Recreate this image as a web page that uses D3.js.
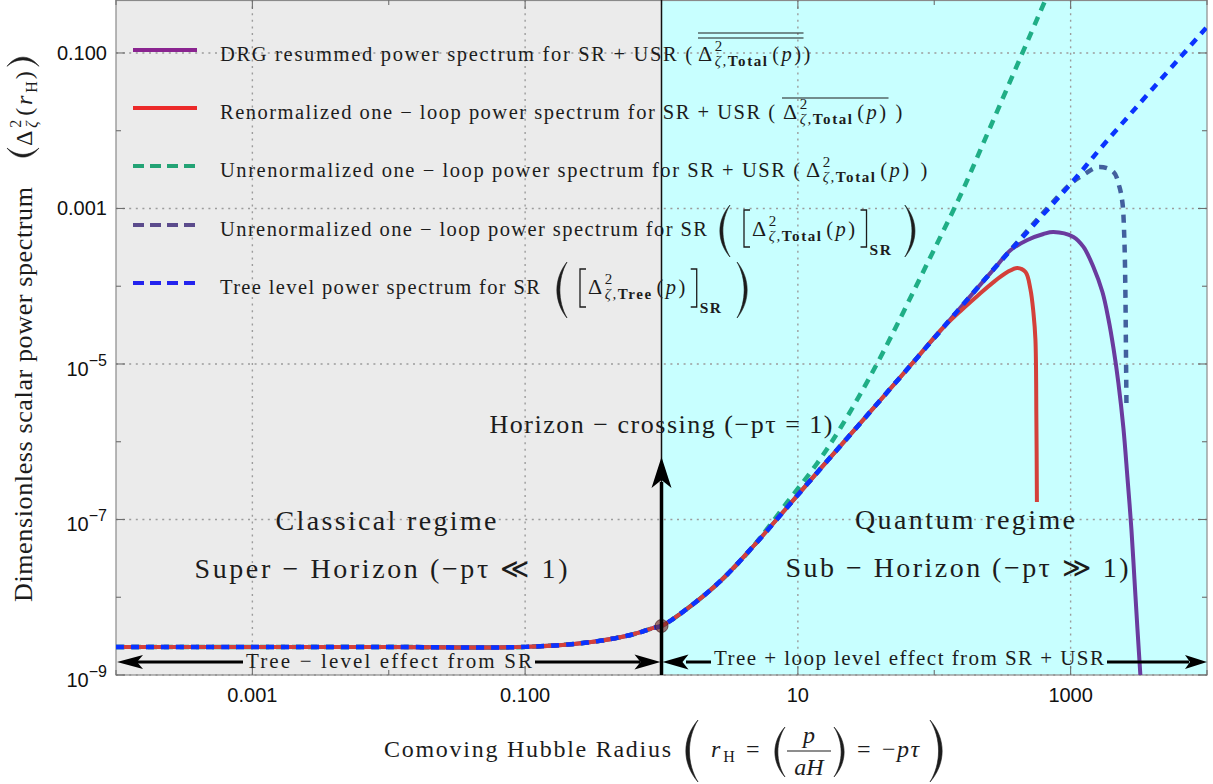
<!DOCTYPE html>
<html>
<head>
<meta charset="utf-8">
<script src="https://cdn.jsdelivr.net/npm/d3@7"></script>
<style>
  body { margin: 0; background: #fff; }
  svg { display: block; }
</style>
</head>
<body>
<svg id="chart" width="1213" height="784"></svg>
<script>
// ---- ticks ----
const xMajor = [1e-3, 1e-1, 1e1, 1e3];
const xMajorLabels = ["0.001", "0.100", "10", "1000"];
const xMinor = [1e-4, 1e-2, 1, 100, 1e4];
const yMajor = [1e-1, 1e-3, 1e-5, 1e-7, 1e-9];
const yMajorLabels = [["0.100"], ["0.001"], ["10", "\u22125"], ["10", "\u22127"], ["10", "\u22129"]];
const yMinor = [1e-2, 1e-4, 1e-6, 1e-8];

// ---- series: [comoving Hubble radius, power spectrum] ----
const treeSR = [
  [1e-4, 2.29e-9], [1e-3, 2.29e-9], [1e-2, 2.29e-9], [0.1, 2.3e-9], [0.286, 2.62e-9],
  [0.593, 3.27e-9], [0.874, 4.03e-9], [1, 4.27e-9], [1.55, 7.17e-9], [2.71, 1.62e-8],
  [4.73, 4.56e-8], [8.39, 1.45e-7], [14.6, 4.47e-7], [23.1, 1.12e-6], [70.4, 1.06e-5],
  [164, 5.9e-5], [290, 1.87e-4], [1000, 2.07e-3], [1740, 6.56e-3], [1e4, 0.216]
];
const renormSRUSR = treeSR.slice(0, 15).concat([
  [111, 2.7e-5], [156, 4.81e-5], [207, 7.5e-5], [272, 1.13e-4], [344, 1.52e-4], [407, 1.72e-4],
  [467, 1.52e-4], [507, 9.2e-5], [534, 4.53e-5], [552, 2.04e-5], [561, 1.9e-6], [566, 1.68e-7]
]);
const drgSRUSR = treeSR.slice(0, 17).concat([
  [362, 2.9e-4], [482, 3.94e-4], [632, 4.7e-4], [748, 4.99e-4], [1049, 4.3e-4],
  [1242, 3.2e-4], [1469, 1.77e-4], [1711, 8.43e-5], [1893, 3.79e-5], [2060, 1.61e-5],
  [2240, 5.7e-6], [2438, 1.5e-6], [2608, 3.52e-7], [2790, 7.55e-8], [2937, 1.72e-8],
  [3090, 3.91e-9], [3250, 9.7e-10], [3360, 2.6e-10]
]);
const unrenormSR = treeSR.slice(0, 18).concat([
  [1242, 2.7e-3], [1600, 3.42e-3], [2060, 2.95e-3], [2280, 1.89e-3], [2399, 1.18e-3],
  [2478, 3.94e-4], [2520, 8.95e-5], [2541, 2.04e-5], [2566, 3.15e-6]
]);
const unrenormSRUSR = treeSR.slice(0, 11).concat([
  [8.39, 1.68e-7], [13.9, 5.33e-7], [20.5, 1.5e-6], [38.3, 1.03e-5],
  [93.8, 2.38e-4], [156, 1.49e-3], [226, 6.56e-3], [653, 0.48], [842, 1.33]
]);
const horizonPoint = [1, 4.27e-9];

const ink = "#1c1c1c";
const serif = '"Liberation Serif"';
const sans = '"Liberation Sans"';

const svg = d3.select("#chart");
const x = d3.scaleLog().domain([1e-4, 1e4]).range([116, 1207]);
const y = d3.scaleLog().domain([1e-9, 0.48]).range([675, 0]);
const [x0, x1] = x.range();
const [y1, y0] = y.range();

// ---- regions ----
svg.append("rect").attr("x", x0).attr("y", y0).attr("width", x(1) - x0).attr("height", y1 - y0).attr("fill", "#ebebeb");
svg.append("rect").attr("x", x(1)).attr("y", y0).attr("width", x1 - x(1)).attr("height", y1 - y0).attr("fill", "#c8ffff");

// ---- grid ----
const grid = svg.append("g").attr("stroke", "#9c9c9c").attr("stroke-width", 1.4).attr("stroke-dasharray", "2,4.6");
xMajor.forEach(v => grid.append("line").attr("x1", x(v)).attr("x2", x(v)).attr("y1", y0).attr("y2", y1));
yMajor.forEach(v => grid.append("line").attr("x1", x0).attr("x2", x1).attr("y1", y(v)).attr("y2", y(v)));

// ---- frame + ticks ----
svg.append("rect").attr("x", x0).attr("y", y0 + 0.5).attr("width", x1 - x0).attr("height", y1 - y0 - 0.5)
  .attr("fill", "none").attr("stroke", "#8a8a8a").attr("stroke-width", 1.2);
const ticks = svg.append("g").attr("stroke", "#6e6e6e").attr("stroke-width", 1.1);
const tk = (v, len) => {
  ticks.append("line").attr("x1", x(v)).attr("x2", x(v)).attr("y1", y1).attr("y2", y1 - len);
  ticks.append("line").attr("x1", x(v)).attr("x2", x(v)).attr("y1", y0).attr("y2", y0 + len);
};
xMajor.forEach(v => tk(v, 9));
xMinor.forEach(v => tk(v, 5));
const tky = (v, len) => {
  ticks.append("line").attr("x1", x0).attr("x2", x0 + len).attr("y1", y(v)).attr("y2", y(v));
  ticks.append("line").attr("x1", x1).attr("x2", x1 - len).attr("y1", y(v)).attr("y2", y(v));
};
yMajor.forEach(v => tky(v, 9));
yMinor.forEach(v => tky(v, 5));

// tick labels
svg.append("g").selectAll("text").data(xMajor).join("text")
  .style("font-family", sans)
  .attr("x", d => x(d)).attr("y", y1 + 27).attr("text-anchor", "middle")
  .attr("font-size", 20).attr("fill", "#111")
  .text((d, i) => xMajorLabels[i]);
yMajor.forEach((v, i) => {
  const lab = yMajorLabels[i];
  const t = svg.append("text").style("font-family", sans).attr("x", 107).attr("text-anchor", "end")
    .attr("font-size", 20).attr("fill", "#111");
  if (lab.length === 1) {
    t.attr("y", y(v) + 7).text(lab[0]);
  } else {
    t.attr("y", y(v) + 12);
    t.append("tspan").text(lab[0]);
    t.append("tspan").attr("dy", -10).attr("font-size", 16).text(lab[1]);
  }
});

// ---- text layout helpers ----
function delim(g, type, x, ya, yb, w) {
  const h = yb - ya;
  let d;
  if (type === "(") d = `M${x + w},${ya} C${x - 0.35 * w},${ya + 0.3 * h} ${x - 0.35 * w},${yb - 0.3 * h} ${x + w},${yb}` +
    ` C${x + 0.05 * w},${yb - 0.3 * h} ${x + 0.05 * w},${ya + 0.3 * h} ${x + w},${ya}Z`;
  if (type === ")") d = `M${x},${ya} C${x + 1.35 * w},${ya + 0.3 * h} ${x + 1.35 * w},${yb - 0.3 * h} ${x},${yb}` +
    ` C${x + 0.95 * w},${yb - 0.3 * h} ${x + 0.95 * w},${ya + 0.3 * h} ${x},${ya}Z`;
  if (type === "[") d = `M${x + w},${ya} H${x} V${yb} H${x + w}`;
  if (type === "]") d = `M${x},${ya} H${x + w} V${yb} H${x}`;
  const p = g.append("path").attr("d", d);
  if (type === "(" || type === ")") p.attr("fill", ink).attr("stroke", ink).attr("stroke-width", 0.6);
  else p.attr("fill", "none").attr("stroke", ink).attr("stroke-width", 1.3);
}

function flow(g, xs, yb, parts) {
  let cx = xs;
  const boxes = [];
  parts.forEach(p => {
    if (p.at !== undefined) cx = p.at;
    if (p.stack) cx = boxes[boxes.length - 1].x0;
    cx += p.gap || 0;
    if (p.delim) {
      delim(g, p.delim, cx, yb + p.top, yb + p.bot, p.w);
      boxes.push({x0: cx, x1: cx + p.w});
      cx += p.w;
      return;
    }
    const fs = p.fs || 20.5;
    const t = g.append("text").style("font-family", serif).attr("x", cx).attr("y", yb + (p.dy || 0))
      .attr("font-size", fs).attr("fill", ink);
    (p.sp || [[p.t, p.st || ""]]).forEach(([s, st]) => {
      t.append("tspan").text(s)
        .attr("font-weight", st.includes("b") ? "bold" : null)
        .attr("font-style", st.includes("i") ? "italic" : null);
    });
    let w;
    if (p.len) {
      t.attr("textLength", p.len).attr("lengthAdjust", "spacing");
      w = p.len;
    } else {
      const ls = p.ls !== undefined ? p.ls : fs * 0.06;
      t.attr("letter-spacing", ls.toFixed(2));
      w = t.node().getComputedTextLength() + ls;
    }
    const box = {x0: cx, x1: cx + w};
    if (p.stack) box.x1 = Math.max(box.x1, boxes[boxes.length - 1].x1);
    boxes.push(box);
    cx = box.x1;
  });
  return boxes;
}

const delta = (sub, gap) => [
  {t: "\u0394", fs: 22, gap: gap},
  {t: "2", fs: 15, dy: -10},
  {sp: [["\u03b6,", "i"], [sub, "b"]], fs: 15, dy: 5, ls: 1.6, stack: true},
  {t: "(", gap: 2},
  {t: "p", st: "i"},
  {t: ")"}
];

// ---- curves ----
svg.append("clipPath").attr("id", "clip").append("rect")
  .attr("x", x0).attr("y", y0).attr("width", x1 - x0).attr("height", y1 - y0);
const line = d3.line().x(d => x(d[0])).y(d => y(d[1])).curve(d3.curveCatmullRom.alpha(0.5));
const series = [
  {data: unrenormSRUSR, color: "#1fae86", w: 4.5, dash: "9,7"},
  {data: unrenormSR, color: "#42609e", w: 4.5, dash: "8,7"},
  {data: drgSRUSR, color: "#6a3b9e", w: 4},
  {data: renormSRUSR, color: "#d4403a", w: 4},
  {data: treeSR, color: "#0a33ff", w: 4.5, dash: "8,7"}
];

// thin horizon boundary
svg.append("line").attr("x1", x(1)).attr("x2", x(1)).attr("y1", y0).attr("y2", y1)
  .attr("stroke", "#111").attr("stroke-width", 1.5);

const curves = svg.append("g").attr("clip-path", "url(#clip)");
series.forEach(s => {
  curves.append("path").attr("d", line(s.data)).attr("fill", "none")
    .attr("stroke", s.color).attr("stroke-width", s.w)
    .attr("stroke-dasharray", s.dash || null);
});
svg.append("circle").attr("cx", x(horizonPoint[0])).attr("cy", y(horizonPoint[1])).attr("r", 6.5)
  .attr("fill", "rgba(120,45,45,0.65)").attr("stroke", "rgba(70,30,30,0.7)").attr("stroke-width", 1);

// ---- legend ----
const legendColors = ["#8a2490", "#ec2a2a", "#23a375", "#5b4b8c", "#2323ee"];
const legendDash = [null, null, "11,6", "11,6", "11,6"];
const legendBase = [61, 119, 177, 236, 294];
const lg = svg.append("g");
legendBase.forEach((b, i) => {
  lg.append("line").attr("x1", 133).attr("x2", 197).attr("y1", b - 11).attr("y2", b - 11)
    .attr("stroke", legendColors[i]).attr("stroke-width", 4).attr("stroke-dasharray", legendDash[i]);
});
let bx = flow(lg, 220, 61, [{t: "DRG resummed power spectrum for SR + USR (", len: 472}, ...delta("Total", 6)]);
[33, 38].forEach(yy => lg.append("line").attr("x1", bx[1].x0).attr("x2", bx[bx.length - 1].x1)
  .attr("y1", yy).attr("y2", yy).attr("stroke", ink).attr("stroke-width", 1.1));
flow(lg, bx[bx.length - 1].x1, 61, [{t: ")"}]);

bx = flow(lg, 220, 119, [{t: "Renormalized one \u2212 loop power spectrum for SR + USR (", len: 555}, ...delta("Total", 8)]);
lg.append("line").attr("x1", bx[1].x0 - 1).attr("x2", bx[bx.length - 1].x1)
  .attr("y1", 98).attr("y2", 98).attr("stroke", ink).attr("stroke-width", 1.1);
flow(lg, bx[bx.length - 1].x1, 119, [{t: ")", gap: 7}]);

flow(lg, 220, 177, [{t: "Unrenormalized one \u2212 loop power spectrum for SR + USR (", len: 580}, ...delta("Total", 6), {t: ")", gap: 9}]);

flow(lg, 220, 236, [
  {t: "Unrenormalized one \u2212 loop power spectrum for SR", len: 487},
  {delim: "(", gap: 13, top: -31, bot: 21, w: 10},
  {delim: "[", gap: 14, top: -26, bot: 11, w: 6},
  ...delta("Total", 2),
  {delim: "]", gap: 3, top: -26, bot: 11, w: 6},
  {t: "SR", st: "b", fs: 15.5, ls: 1.5, dy: 19, gap: 3},
  {delim: ")", gap: 11, top: -31, bot: 21, w: 10}
]);
flow(lg, 220, 294, [
  {t: "Tree level power spectrum for SR", len: 320},
  {delim: "(", gap: 17, top: -32, bot: 24, w: 10},
  {delim: "[", gap: 13, top: -25, bot: 13, w: 6},
  ...delta("Tree", 2),
  {delim: "]", gap: 3, top: -25, bot: 13, w: 6},
  {t: "SR", st: "b", fs: 15.5, ls: 1.5, dy: 19, gap: 3},
  {delim: ")", gap: 13, top: -32, bot: 24, w: 10}
]);

// ---- annotations ----
function head(g, tx, ty, dx, dy, L, w, n) {
  const px = -dy, py = dx;
  const pts = [[tx, ty], [tx - L * dx + w * px, ty - L * dy + w * py], [tx - (L - n) * dx, ty - (L - n) * dy],
    [tx - L * dx - w * px, ty - L * dy - w * py]];
  g.append("path").attr("d", "M" + pts.join("L") + "Z").attr("fill", "#000");
}
const ann = svg.append("g");
const xh = x(1);
// vertical horizon arrow
ann.append("line").attr("x1", xh).attr("x2", xh).attr("y1", y1).attr("y2", 482)
  .attr("stroke", "#000").attr("stroke-width", 3.5);
head(ann, xh, 457, 0, -1, 31, 10, 8);

// bottom arrows
const ya = 662;
const segs = [[137, 243], [535, 640], [686, 711], [1107, 1189]];
segs.forEach(([a, b]) => ann.append("line").attr("x1", a).attr("x2", b).attr("y1", ya).attr("y2", ya)
  .attr("stroke", "#000").attr("stroke-width", 3));
head(ann, x0 + 1, ya, -1, 0, 26, 7, 6);
head(ann, xh - 1, ya, 1, 0, 26, 7.5, 6);
head(ann, xh + 1, ya, -1, 0, 26, 7.5, 6);
head(ann, x1, ya, 1, 0, 22, 7, 5);

const note = (txt, cx, by, fs, len) => ann.append("text").style("font-family", serif)
  .attr("x", cx - len / 2).attr("y", by)
  .attr("font-size", fs).attr("fill", ink)
  .attr("textLength", len).attr("lengthAdjust", "spacing").text(txt);
note("Tree \u2212 level effect from SR", 389, 668, 21, 286);
note("Tree + loop level effect from SR + USR", 909, 665, 21, 390);
note("Horizon \u2212 crossing (\u2212p\u03c4 = 1)", 661, 433, 26, 343);
note("Classical regime", 386, 530, 28, 221);
note("Super \u2212 Horizon (\u2212p\u03c4 \u226a 1)", 381, 578, 28, 373);
note("Quantum regime", 965, 529, 28, 220);
note("Sub \u2212 Horizon (\u2212p\u03c4 \u226b 1)", 957, 577, 28, 343);

// ---- axis titles ----
const ylab = svg.append("g").attr("transform", "translate(32,602) rotate(-90)");
flow(ylab, 0, 0, [
  {t: "Dimensionless scalar power spectrum", fs: 26, len: 415},
  {delim: "(", gap: 30, top: -25, bot: 7, w: 9},
  {t: "\u0394", fs: 24, gap: 2},
  {t: "2", fs: 16, dy: -11},
  {t: "\u03b6", st: "i", fs: 16, dy: 5, stack: true},
  {t: "(", fs: 24, gap: 2},
  {t: "r", st: "i", fs: 24},
  {t: "H", fs: 16, dy: 5},
  {t: ")", fs: 24},
  {delim: ")", gap: 2, top: -25, bot: 7, w: 9}
]);

const xl = svg.append("g");
flow(xl, 384, 757, [
  {t: "Comoving Hubble Radius", fs: 24, len: 287},
  {delim: "(", at: 686, top: -37, bot: 25, w: 12},
  {t: "r", st: "i", fs: 24, at: 711},
  {t: "H", fs: 16, dy: 5},
  {t: "=", fs: 24, at: 746},
  {delim: "(", at: 775, top: -30, bot: 20, w: 10},
  {delim: ")", at: 834, top: -30, bot: 20, w: 10},
  {t: "=", fs: 24, at: 857},
  {sp: [["\u2212", ""], ["p\u03c4", "i"]], fs: 24, at: 882},
  {delim: ")", at: 930, top: -37, bot: 25, w: 12}
]);
xl.append("text").style("font-family", serif).attr("x", 809).attr("y", 743).attr("text-anchor", "middle")
  .attr("font-style", "italic").attr("font-size", 24).attr("fill", ink).text("p");
xl.append("text").style("font-family", serif).attr("x", 809).attr("y", 775).attr("text-anchor", "middle")
  .attr("font-style", "italic").attr("font-size", 24).attr("fill", ink).text("aH");
xl.append("line").attr("x1", 787).attr("x2", 831).attr("y1", 751).attr("y2", 751)
  .attr("stroke", ink).attr("stroke-width", 1.2);
</script>
</body>
</html>
